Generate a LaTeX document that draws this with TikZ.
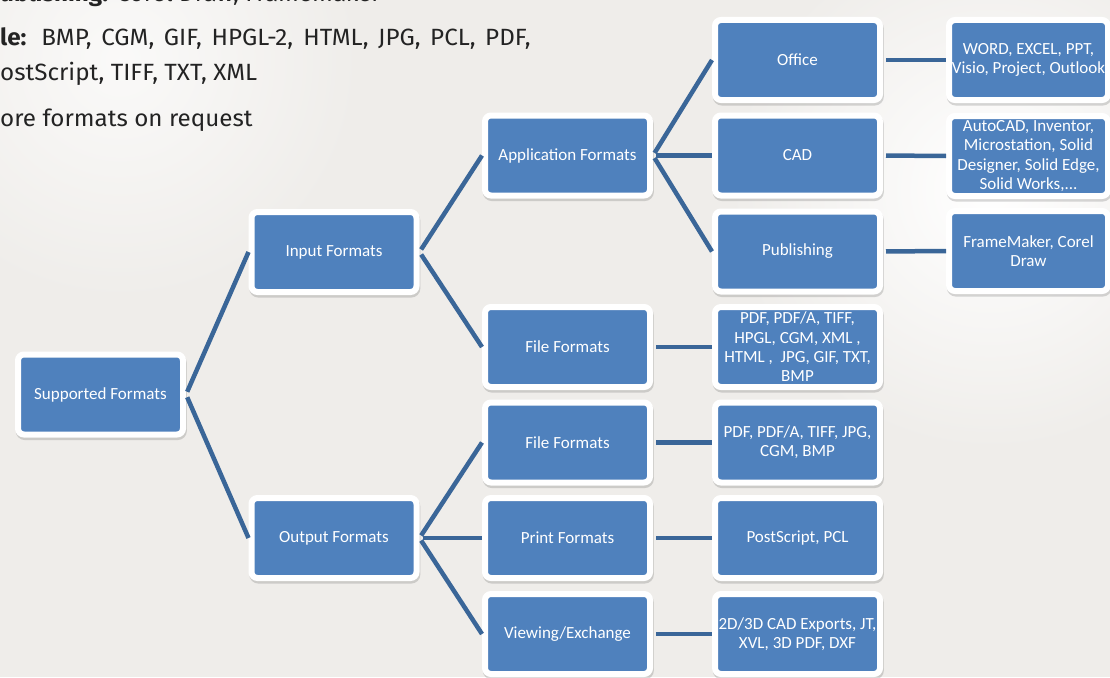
\documentclass[tikz,border=0pt]{standalone}
\usepackage{fontspec}
\setmainfont{Carlito}
\newfontfamily\firafont{Fira Sans}
\usetikzlibrary{shadows}
\definecolor{boxblue}{RGB}{79,129,189}
\definecolor{linkblue}{RGB}{58,102,152}
\definecolor{bgc}{RGB}{239,237,234}
\definecolor{txtc}{RGB}{35,35,35}
\begin{document}
\begin{tikzpicture}[x=1pt,y=-1pt,
  fbox/.style={fill=boxblue, draw=white, line width=6pt, rounded corners=6pt,
    minimum width=165pt, minimum height=80pt, inner sep=0pt, align=center,
    text=white, font=\fontsize{17}{19.3}\selectfont,
    drop shadow={shadow xshift=0.8pt, shadow yshift=-2.5pt, opacity=0.25,
      fill=black!60, draw=black!60, line width=6pt}},
  nbox/.style={fbox, minimum width=159pt},
  link/.style={draw=linkblue, line width=4.5pt, shorten <=3pt},
  toptext/.style={anchor=base west, inner sep=0pt, text=txtc,
    font=\firafont\fontsize{23.5}{28}\selectfont, xscale=1.03}
]
\useasboundingbox (0,0) rectangle (1110,677);
\clip (0,0) rectangle (1110,677);
\fill[bgc] (0,0) rectangle (1110,677);
\shade[inner color=white, outer color=bgc] (990,190) circle (260pt);
\shade[inner color=white!70!bgc, outer color=bgc] (120,60) circle (240pt);

% top-left text
\node[toptext] (t0) at (0,2) {\textbf{ublishing:} Corel Draw, Framemaker};
\node[toptext] (t1) at (0,46) {\makebox[515pt][s]{\textbf{le:} BMP, CGM, GIF, HPGL-2, HTML, JPG, PCL, PDF,}};
\node[toptext] (t2) at (0,81) {ostScript, TIFF, TXT, XML};
\node[toptext] (t3) at (0,126) {ore formats on request};

% nodes
\node[fbox] (sup) at (100.5,394.5) {Supported Formats};
\node[fbox] (inp) at (334,252) {Input Formats};
\node[fbox] (out) at (334,538) {Output Formats};
\node[fbox] (app) at (567.5,155.5) {Application Formats};
\node[fbox] (ffi) at (567.5,347) {File Formats};
\node[fbox] (ffo) at (567.5,442.5) {File Formats};
\node[fbox] (prt) at (567.5,538) {Print Formats};
\node[fbox] (vie) at (567.5,634) {Viewing/Exchange};
\node[fbox] (off) at (797.5,60) {Office};
\node[fbox] (cad) at (797.5,155.5) {CAD};
\node[fbox] (pub) at (797.5,251.5) {Publishing};
\node[fbox] (ffil) at (797.5,347) {PDF, PDF/A, TIFF,\\HPGL, CGM, XML ,\\HTML ,\ \ JPG, GIF, TXT,\\BMP};
\node[fbox] (ffol) at (797.5,442.5) {PDF, PDF/A, TIFF, JPG,\\CGM, BMP};
\node[fbox] (prtl) at (797.5,538) {PostScript, PCL};
\node[fbox] (viel) at (797.5,634) {2D/3D CAD Exports, JT,\\XVL, 3D PDF, DXF};
\node[nbox] (word) at (1028.5,60) {WORD, EXCEL, PPT,\\Visio, Project, Outlook};
\node[nbox] (acad) at (1028.5,156) {AutoCAD, Inventor,\\Microstation, Solid\\Designer, Solid Edge,\\Solid Works,...};
\node[nbox] (fm) at (1028.5,251) {FrameMaker, Corel\\Draw};

% connectors
\draw[link] (sup.east) -- (inp.west);
\draw[link] (sup.east) -- (out.west);
\draw[link] (inp.east) -- (app.west);
\draw[link] (inp.east) -- (ffi.west);
\draw[link] (app.east) -- (off.west);
\draw[link] (app.east) -- (cad.west);
\draw[link] (app.east) -- (pub.west);
\draw[link] (out.east) -- (ffo.west);
\draw[link] (out.east) -- (prt.west);
\draw[link] (out.east) -- (vie.west);
\draw[link] (off.east) -- (word.west);
\draw[link] (cad.east) -- (acad.west);
\draw[link] (pub.east) -- (fm.west);
\draw[link] (ffi.east) -- (ffil.west);
\draw[link] (ffo.east) -- (ffol.west);
\draw[link] (prt.east) -- (prtl.west);
\draw[link] (vie.east) -- (viel.west);
\end{tikzpicture}
\end{document}
